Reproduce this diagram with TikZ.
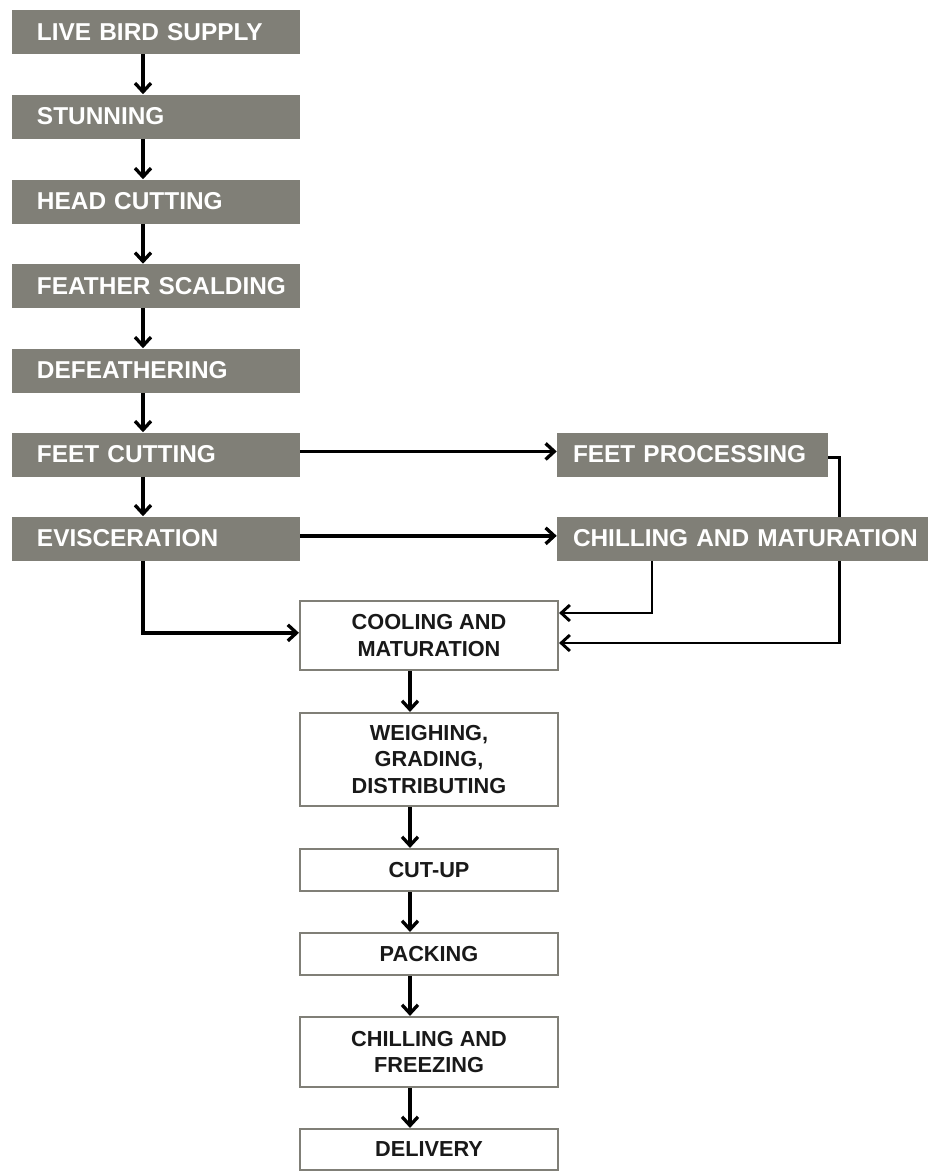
\documentclass[tikz,border=0pt]{standalone}
\usepackage{fontspec}
\setmainfont{Liberation Sans}
\usetikzlibrary{arrows.meta,backgrounds}
\definecolor{boxgray}{RGB}{128,127,119}

\begin{document}
\begin{tikzpicture}[x=0.75pt, y=-0.75pt,
    graybox/.style={rectangle, fill=boxgray, text=white, inner xsep=0pt, inner ysep=0pt,
        text width=#1, align=left, minimum height=33pt,
        font=\fontsize{18.3}{21}\selectfont\bfseries},
    pad/.style={execute at begin node={\hspace*{#1}}},
    whitebox/.style={rectangle, draw=boxgray, line width=1.6pt, fill=white, text=black!90,
        align=center, minimum width=193.5pt, minimum height=#1,
        font=\fontsize{16.3}{20}\selectfont\bfseries},
    flow/.style={line width=2.5pt, -{Straight Barb[length=6.5pt,width=12pt]}},
    link/.style={line width=2.2pt, -{Straight Barb[length=6.5pt,width=12pt]}}]
    \useasboundingbox (0,0) rectangle (928,1171);

    % slaughter line
    \node[graybox=216pt, pad=18.75pt] (supply) at (156,32) {LIVE BIRD SUPPLY};
    \node[graybox=216pt, pad=18.75pt] (stun) at (156,116.5) {STUNNING};
    \node[graybox=216pt, pad=18.75pt] (head) at (156,201.5) {HEAD CUTTING};
    \node[graybox=216pt, pad=18.75pt] (scald) at (156,286) {FEATHER SCALDING};
    \node[graybox=216pt, pad=18.75pt] (defeather) at (156,370.5) {DEFEATHERING};
    \node[graybox=216pt, pad=18.75pt] (feet) at (156,454.5) {FEET CUTTING};
    \node[graybox=216pt, pad=18.75pt] (evisc) at (156,538.5) {EVISCERATION};

    % side lines
    \node[graybox=203.25pt, pad=12pt] (feetproc) at (692.5,454.5) {FEET PROCESSING};
    \node[graybox=278.25pt, pad=12pt] (chill) at (742.5,538.5) {CHILLING AND MATURATION};

    % processing of carcasses
    \node[whitebox=51.75pt] (cool) at (429,635.5) {COOLING AND\\MATURATION};
    \node[whitebox=69.75pt] (weigh) at (429,759.5) {WEIGHING,\\GRADING,\\DISTRIBUTING};
    \node[whitebox=31.5pt] (cutup) at (429,870) {CUT-UP};
    \node[whitebox=31.5pt] (pack) at (429,954) {PACKING};
    \node[whitebox=52.5pt] (freeze) at (429,1052) {CHILLING AND\\FREEZING};
    \node[whitebox=30.75pt] (deliv) at (429,1149.5) {DELIVERY};

    % arrows down the left column
    \foreach \a/\b in {supply/stun, stun/head, head/scald, scald/defeather, defeather/feet, feet/evisc}
        \draw[flow] ([xshift=-9.75pt]\a.south) -- ([xshift=-9.75pt]\b.north);

    % arrows to the side lines
    \draw[flow] ([yshift=2.3pt]feet.east) -- ([yshift=2.3pt]feetproc.west);
    \draw[flow] ([yshift=2pt]evisc.east) -- ([yshift=2pt]chill.west);

    % into cooling
    \draw[flow] ([xshift=-9.75pt]evisc.south) |- ([yshift=2pt]cool.west);
    \draw[link] ([xshift=-67.875pt]chill.south) |- ([yshift=16.875pt]cool.east);
    \begin{scope}[on background layer]
        \draw[link] ([yshift=-2.25pt]feetproc.east) -- ++(11.25,0) |- ([yshift=-5.625pt]cool.east);
    \end{scope}

    % arrows down the right column
    \foreach \a/\b in {cool/weigh, weigh/cutup, cutup/pack, pack/freeze, freeze/deliv}
        \draw[flow] ([xshift=-14.25pt]\a.south) -- ([xshift=-14.25pt]\b.north);
\end{tikzpicture}
\end{document}
